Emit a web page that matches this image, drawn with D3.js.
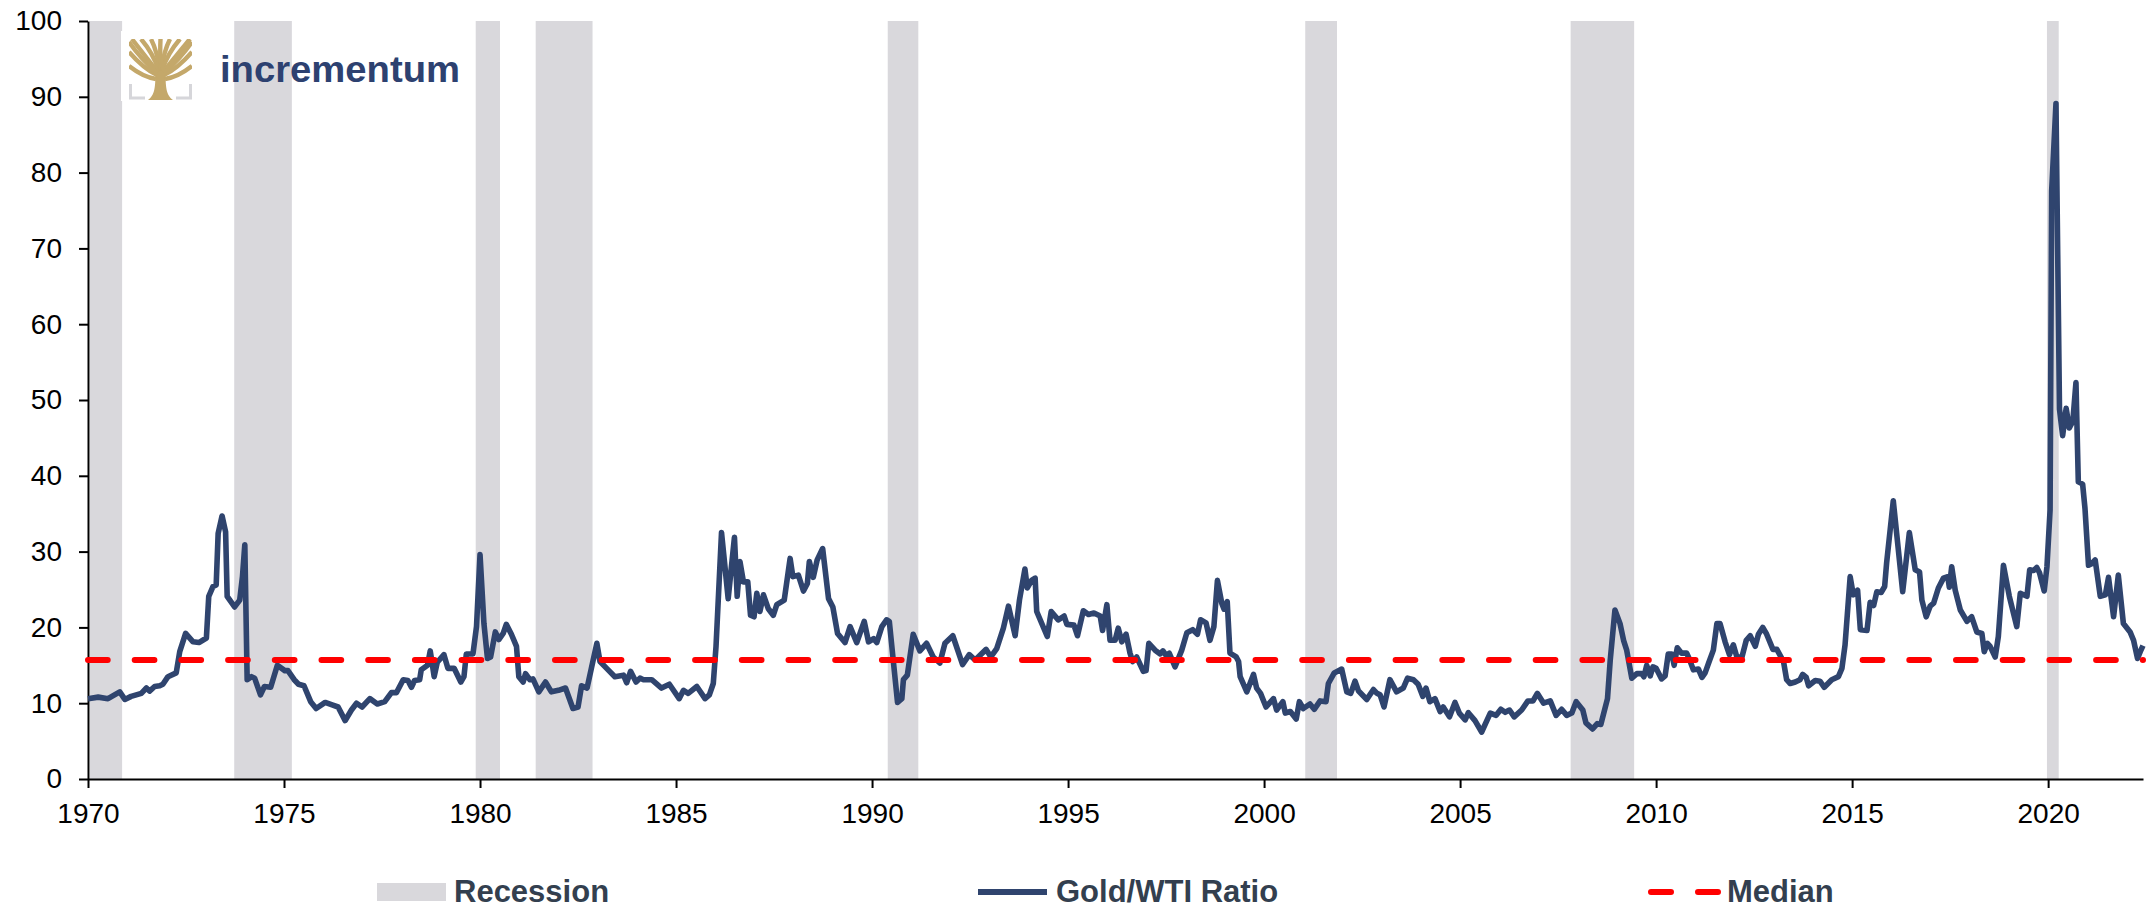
<!DOCTYPE html>
<html>
<head>
<meta charset="utf-8">
<script src="https://cdn.jsdelivr.net/npm/d3@7"></script>
<style>
    body { margin: 0; background: #fff; }
    svg { display: block; font-family: "Liberation Sans", Arial, sans-serif; }
</style>
</head>
<body>
<div id="chart"></div>
<script>
// Gold/WTI ratio (decimal year, ratio)
const years = [
    1970.00, 1970.26, 1970.51, 1970.81, 1970.94, 1971.10, 1971.36, 1971.49, 1971.57, 1971.70, 1971.83, 1971.91,
    1972.04, 1972.25, 1972.34, 1972.49, 1972.68, 1972.83, 1973.02, 1973.08, 1973.19, 1973.27, 1973.32, 1973.42,
    1973.51, 1973.55, 1973.74, 1973.87, 1973.94, 1974.00, 1974.06, 1974.17, 1974.25, 1974.40, 1974.50, 1974.66,
    1974.83, 1975.02, 1975.10, 1975.26, 1975.37, 1975.51, 1975.68, 1975.82, 1976.05, 1976.21, 1976.38, 1976.56,
    1976.72, 1976.85, 1976.99, 1977.19, 1977.38, 1977.57, 1977.74, 1977.87, 1978.04, 1978.16, 1978.25, 1978.33,
    1978.46, 1978.50, 1978.66, 1978.73, 1978.83, 1978.91, 1979.08, 1979.18, 1979.34, 1979.51, 1979.59, 1979.65,
    1979.82, 1979.91, 1980.00, 1980.10, 1980.19, 1980.27, 1980.39, 1980.48, 1980.59, 1980.67, 1980.80, 1980.93,
    1980.99, 1981.10, 1981.16, 1981.27, 1981.35, 1981.50, 1981.67, 1981.82, 1982.00, 1982.18, 1982.37, 1982.50,
    1982.59, 1982.73, 1982.84, 1982.98, 1983.06,
    1983.23, 1983.44, 1983.66, 1983.74, 1983.84, 1983.98, 1984.08, 1984.17, 1984.38, 1984.63, 1984.83, 1985.08,
    1985.19, 1985.31, 1985.53, 1985.74, 1985.85, 1985.95, 1986.02, 1986.16, 1986.33, 1986.49, 1986.56, 1986.63,
    1986.72, 1986.83, 1986.90, 1986.99, 1987.06, 1987.14, 1987.23, 1987.35, 1987.48, 1987.57, 1987.76, 1987.91,
    1987.98, 1988.12, 1988.25, 1988.35, 1988.40, 1988.50, 1988.60, 1988.74, 1988.89, 1989.00, 1989.12, 1989.31,
    1989.44, 1989.61, 1989.80, 1989.91, 1990.04, 1990.12, 1990.25, 1990.37, 1990.44, 1990.54, 1990.65, 1990.76,
    1990.80, 1990.90, 1991.05, 1991.22, 1991.39, 1991.56, 1991.73, 1991.86, 1992.06, 1992.31, 1992.48, 1992.63,
    1992.91, 1993.03, 1993.18, 1993.35, 1993.48, 1993.65, 1993.76, 1993.90, 1993.96, 1994.07, 1994.16, 1994.20,
    1994.47, 1994.57, 1994.75, 1994.90, 1994.97, 1995.15, 1995.24, 1995.39, 1995.52, 1995.66, 1995.82, 1995.88,
    1995.99, 1996.07,
    1996.20, 1996.28, 1996.37, 1996.48, 1996.58, 1996.65, 1996.75, 1996.92, 1996.99, 1997.06, 1997.22, 1997.35,
    1997.42, 1997.50, 1997.58, 1997.73, 1997.90, 1998.03, 1998.18, 1998.30, 1998.38, 1998.52, 1998.62, 1998.72,
    1998.81, 1998.92, 1998.98, 1999.06, 1999.13, 1999.29, 1999.35, 1999.39, 1999.56, 1999.73, 1999.81, 1999.91,
    2000.05, 2000.24, 2000.32, 2000.48, 2000.54, 2000.67, 2000.82, 2000.90, 2001.00, 2001.17, 2001.28, 2001.43,
    2001.58, 2001.64, 2001.79, 2001.98, 2002.11, 2002.21, 2002.32, 2002.41, 2002.62, 2002.79, 2002.88, 2002.96,
    2003.06, 2003.21, 2003.38, 2003.55, 2003.66, 2003.81, 2003.93, 2004.05, 2004.13, 2004.23, 2004.36, 2004.49,
    2004.57, 2004.73, 2004.87, 2004.98, 2005.13, 2005.21, 2005.38, 2005.55, 2005.77, 2005.92, 2006.04, 2006.15,
    2006.26, 2006.38, 2006.57, 2006.73, 2006.86, 2006.97, 2007.13, 2007.30, 2007.45, 2007.59, 2007.72, 2007.85,
    2007.96, 2008.13, 2008.21, 2008.38, 2008.50, 2008.59, 2008.76, 2008.83, 2008.95, 2009.08,
    2009.17, 2009.25, 2009.38, 2009.51, 2009.63, 2009.69, 2009.76, 2009.85, 2009.92, 2010.00, 2010.14, 2010.23,
    2010.31, 2010.40, 2010.46, 2010.54, 2010.65, 2010.78, 2010.85, 2010.95, 2011.08, 2011.17, 2011.25, 2011.34,
    2011.46, 2011.55, 2011.63, 2011.76, 2011.87, 2011.97, 2012.06, 2012.19, 2012.30, 2012.40, 2012.53, 2012.61,
    2012.72, 2012.82, 2012.98, 2013.08, 2013.25, 2013.33, 2013.42, 2013.55, 2013.67, 2013.74, 2013.83, 2013.89,
    2014.06, 2014.18, 2014.29, 2014.48, 2014.65, 2014.74, 2014.82, 2014.95, 2015.03, 2015.14, 2015.21, 2015.38,
    2015.46, 2015.55, 2015.63, 2015.74, 2015.83, 2015.88, 2016.05, 2016.29, 2016.46, 2016.61, 2016.72, 2016.78,
    2016.89, 2016.99, 2017.08, 2017.20, 2017.33, 2017.44, 2017.48, 2017.54, 2017.63, 2017.76, 2017.93, 2018.05,
    2018.18, 2018.31, 2018.37, 2018.45, 2018.52, 2018.65, 2018.73, 2018.86, 2019.01, 2019.20, 2019.29, 2019.46,
    2019.53, 2019.63, 2019.71, 2019.78, 2019.90, 2019.97, 2020.05, 2020.09, 2020.20, 2020.29, 2020.37, 2020.46,
    2020.54, 2020.63, 2020.71, 2020.77, 2020.88, 2020.94, 2021.03, 2021.11, 2021.20, 2021.33, 2021.46, 2021.54,
    2021.67, 2021.79, 2021.92, 2022.09, 2022.18, 2022.28, 2022.35, 2022.42
];
const ratio = [
    10.6, 10.8, 10.6, 11.5, 10.5, 10.9, 11.3, 12.0, 11.6, 12.2, 12.3, 12.5,
    13.5, 14.0, 16.8, 19.2, 18.1, 18.0, 18.6, 24.1, 25.4, 25.6, 32.4, 34.7,
    32.6, 24.1, 22.7, 23.6, 26.7, 30.9, 13.1, 13.5, 13.3, 11.1, 12.2, 12.1,
    15.0, 14.3, 14.3, 13.1, 12.5, 12.3, 10.2, 9.3, 10.1, 9.8, 9.5, 7.7,
    9.1, 10.0, 9.5, 10.6, 9.9, 10.2, 11.4, 11.4, 13.1, 13.0, 12.1, 13.0,
    13.1, 14.4, 15.0, 16.9, 13.5, 15.4, 16.4, 14.6, 14.6, 12.8, 13.5, 16.5,
    16.5, 20.1, 29.6, 20.5, 15.9, 16.1, 19.4, 18.4, 19.2, 20.4, 19.1, 17.5,
    13.5, 12.8, 13.9, 13.1, 13.2, 11.5, 12.8, 11.5, 11.7, 12.0, 9.3, 9.5,
    12.3, 12.0, 14.6, 17.9, 15.5,
    14.6, 13.5, 13.7, 12.7, 14.2, 12.8, 13.3, 13.1, 13.1, 12.0, 12.5, 10.6,
    11.7, 11.3, 12.2, 10.6, 11.1, 12.6, 17.5, 32.5, 23.8, 31.9, 24.1, 28.7,
    26.0, 26.0, 21.6, 21.4, 24.5, 22.1, 24.3, 22.5, 21.6, 23.0, 23.6, 29.1,
    26.7, 26.9, 24.8, 25.8, 28.7, 26.6, 28.9, 30.4, 23.8, 22.7, 19.2, 18.0,
    20.1, 18.0, 20.8, 18.1, 18.5, 18.0, 20.1, 21.0, 20.8, 15.7, 10.1, 10.6,
    13.1, 13.7, 19.1, 16.9, 17.9, 16.1, 15.3, 17.9, 18.9, 15.1, 16.4, 15.7,
    17.1, 16.1, 17.2, 19.9, 22.8, 18.9, 23.6, 27.7, 25.2, 26.2, 26.5, 22.1,
    18.8, 22.1, 21.0, 21.5, 20.4, 20.3, 18.9, 22.2, 21.7, 21.9, 21.5, 19.6,
    23.0, 18.3,
    18.3, 19.9, 18.1, 19.1, 16.6, 15.5, 16.1, 14.2, 14.3, 17.9, 17.0, 16.5,
    16.9, 16.3, 16.6, 14.8, 17.0, 19.3, 19.7, 19.1, 21.0, 20.6, 18.3, 20.1,
    26.2, 23.2, 22.4, 23.4, 16.6, 16.1, 15.5, 13.5, 11.5, 13.8, 12.0, 11.3,
    9.5, 10.6, 9.1, 10.2, 8.7, 8.9, 7.9, 10.2, 9.3, 9.9, 9.2, 10.3,
    10.2, 12.6, 14.0, 14.5, 11.5, 11.3, 12.9, 11.6, 10.5, 11.8, 11.3, 11.1,
    9.5, 13.1, 11.5, 12.0, 13.3, 13.1, 12.5, 10.9, 12.0, 10.2, 10.6, 8.9,
    9.5, 8.2, 10.1, 8.7, 7.8, 8.75, 7.7, 6.2, 8.7, 8.4, 9.2, 8.8,
    9.1, 8.2, 9.1, 10.3, 10.3, 11.3, 10.0, 10.3, 8.4, 9.2, 8.4, 8.7,
    10.2, 9.1, 7.4, 6.6, 7.3, 7.2, 10.6, 15.7, 22.3, 20.5,
    18.3, 17.0, 13.3, 13.9, 13.9, 13.5, 15.0, 13.6, 14.8, 14.6, 13.2, 13.6,
    16.5, 16.5, 15.0, 17.3, 16.6, 16.6, 15.8, 14.4, 14.5, 13.4, 14.0, 15.3,
    17.0, 20.5, 20.5, 18.1, 16.4, 17.7, 16.1, 16.1, 18.3, 18.9, 17.5, 19.1,
    20.0, 19.1, 17.1, 17.1, 15.5, 13.1, 12.6, 12.8, 13.1, 13.8, 13.4, 12.3,
    13.0, 12.9, 12.1, 13.1, 13.5, 14.6, 17.7, 26.7, 24.3, 24.9, 19.7, 19.6,
    23.3, 22.9, 24.7, 24.6, 25.4, 28.5, 36.7, 24.7, 32.5, 27.6, 27.3, 23.6,
    21.4, 22.8, 23.2, 25.2, 26.5, 26.7, 25.3, 28.0, 24.9, 22.3, 20.8, 21.4,
    19.4, 19.2, 16.8, 17.9, 17.5, 16.1, 18.8, 28.2, 24.1, 20.1, 24.5, 24.1,
    27.6, 27.5, 27.9, 27.2, 24.8, 28.0, 35.5, 77.6, 89.1, 48.8, 45.3, 48.9,
    46.3, 47.2, 52.3, 39.2, 38.9, 35.7, 28.2, 28.4, 28.9, 24.1, 24.3, 26.6,
    21.4, 26.9, 20.5, 19.4, 18.3, 15.9, 16.8, 17.6
];
const median = 15.7;

// US recessions (start, end) in decimal years
const recessionStart = [1970.05, 1973.73, 1979.89, 1981.42, 1990.40, 2001.05, 2007.82, 2019.97];
const recessionEnd   = [1970.87, 1975.20, 1980.51, 1982.87, 1991.18, 2001.86, 2009.44, 2020.27];

const xTicks = [1970, 1975, 1980, 1985, 1990, 1995, 2000, 2005, 2010, 2015, 2020];
const yTicks = [0, 10, 20, 30, 40, 50, 60, 70, 80, 90, 100];

const legendLabels = ['Recession', 'Gold/WTI Ratio', 'Median'];

function renderChart(container) {
    const width = 2151;
    const height = 908;
    const navy = '#2f446e';
    const red = '#ff0000';
    const grey = '#d9d8dc';
    const textColor = '#333f4f';

    const x = d3.scaleLinear().domain([1970, 2022.42]).range([88, 2143]);
    const y = d3.scaleLinear().domain([0, 100]).range([779, 21]);

    const svg = d3.create('svg')
        .attr('width', width)
        .attr('height', height)
        .attr('viewBox', [0, 0, width, height]);

    svg.append('rect').attr('width', width).attr('height', height).attr('fill', '#fff');

    // Recession bands
    svg.append('g')
        .selectAll('rect')
        .data(recessionStart.map((s, i) => [s, recessionEnd[i]]))
        .join('rect')
        .attr('x', d => x(d[0]))
        .attr('width', d => x(d[1]) - x(d[0]))
        .attr('y', y(100))
        .attr('height', y(0) - y(100))
        .attr('fill', grey);

    // Logo
    const logo = svg.append('g').attr('transform', 'translate(129,39)');
    const gold = '#c4a86a';
    logo.append('path')
        .attr('d', 'M1.5,45 V59 H16 M61.5,45 V59 H47')
        .attr('fill', 'none')
        .attr('stroke', '#d6d6da')
        .attr('stroke-width', 3);
    logo.append('path')
        .attr('d', 'M19,61 C26,56 26.5,48 26.5,30 L36.5,30 C36.5,48 37,56 44,61 Z')
        .attr('fill', gold);
    const branches = [
        'M29,33 Q20,22 3,0', 'M30,32 Q24,14 12,0', 'M31,31 Q28,12 22,0', 'M31.5,31 Q31,10 31.5,0',
        'M32,31 Q35,12 41,0', 'M33,31 Q39,14 51,0', 'M34,33 Q43,22 61,0',
        'M28,36 Q15,30 0,13', 'M35,36 Q48,30 63,13', 'M27,40 Q14,38 0,27', 'M36,40 Q49,38 63,27',
        'M28,34 Q12,20 0,3', 'M35,34 Q51,20 63,3'
    ];
    logo.append('g')
        .selectAll('path')
        .data(branches)
        .join('path')
        .attr('d', d => d)
        .attr('fill', 'none')
        .attr('stroke', gold)
        .attr('stroke-width', 4.4);
    // trim the canopy to a square box
    logo.append('path')
        .attr('d', 'M-6,-8 H70 V0 H-6 Z M-8,-8 H0 V62 H-8 Z M63,-8 H71 V62 H63 Z')
        .attr('fill', '#fff');

    logo.append('text')
        .attr('x', 91)
        .attr('y', 43)
        .attr('textLength', 240)
        .attr('lengthAdjust', 'spacingAndGlyphs')
        .style('font-size', '37px')
        .style('font-weight', 'bold')
        .style('fill', '#2d4170')
        .text('incrementum');

    // Axes
    const xAxis = svg.append('g')
        .attr('transform', `translate(0,${y(0)})`)
        .call(d3.axisBottom(x).tickValues(xTicks).tickFormat(d3.format('d')).tickSize(9).tickSizeOuter(0).tickPadding(15));
    const yAxis = svg.append('g')
        .attr('transform', `translate(${x(1970)},0)`)
        .call(d3.axisLeft(y).tickValues(yTicks).tickSize(9).tickSizeOuter(0).tickPadding(17));

    [xAxis, yAxis].forEach(a => {
        a.select('.domain').attr('stroke', '#000').attr('stroke-width', 2);
        a.selectAll('.tick line').attr('stroke', '#000').attr('stroke-width', 2);
        a.selectAll('.tick text')
            .style('font-size', '28px')
            .style('font-family', '"Liberation Sans", Arial, sans-serif')
            .attr('fill', '#000');
    });

    // Ratio line
    const line = d3.line()
        .x(d => x(d[0]))
        .y(d => y(d[1]));

    svg.append('path')
        .datum(years.map((yr, i) => [yr, ratio[i]]))
        .attr('d', line)
        .attr('fill', 'none')
        .attr('stroke', navy)
        .attr('stroke-width', 5.6)
        .attr('stroke-linejoin', 'round');

    // Median
    svg.append('line')
        .attr('x1', x(1970))
        .attr('x2', x(2022.42))
        .attr('y1', y(median))
        .attr('y2', y(median))
        .attr('stroke', red)
        .attr('stroke-width', 6)
        .attr('stroke-linecap', 'round')
        .attr('stroke-dasharray', '19.7,27');

    // Legend
    const legend = svg.append('g');
    legend.append('rect')
        .attr('x', 377).attr('y', 883).attr('width', 69).attr('height', 18)
        .attr('fill', grey);
    legend.append('line')
        .attr('x1', 978).attr('x2', 1047).attr('y1', 892).attr('y2', 892)
        .attr('stroke', navy).attr('stroke-width', 6);
    legend.append('line')
        .attr('x1', 1651).attr('x2', 1718).attr('y1', 892).attr('y2', 892)
        .attr('stroke', red).attr('stroke-width', 6)
        .attr('stroke-linecap', 'round')
        .attr('stroke-dasharray', '20,27');

    const legendX = [454, 1056, 1727];
    legend.selectAll('text')
        .data(legendLabels)
        .join('text')
        .attr('x', (d, i) => legendX[i])
        .attr('y', 902)
        .style('font-size', '31px')
        .style('font-weight', 'bold')
        .style('fill', textColor)
        .text(d => d);

    container.appendChild(svg.node());
}

renderChart(document.getElementById('chart'));
</script>
</body>
</html>
